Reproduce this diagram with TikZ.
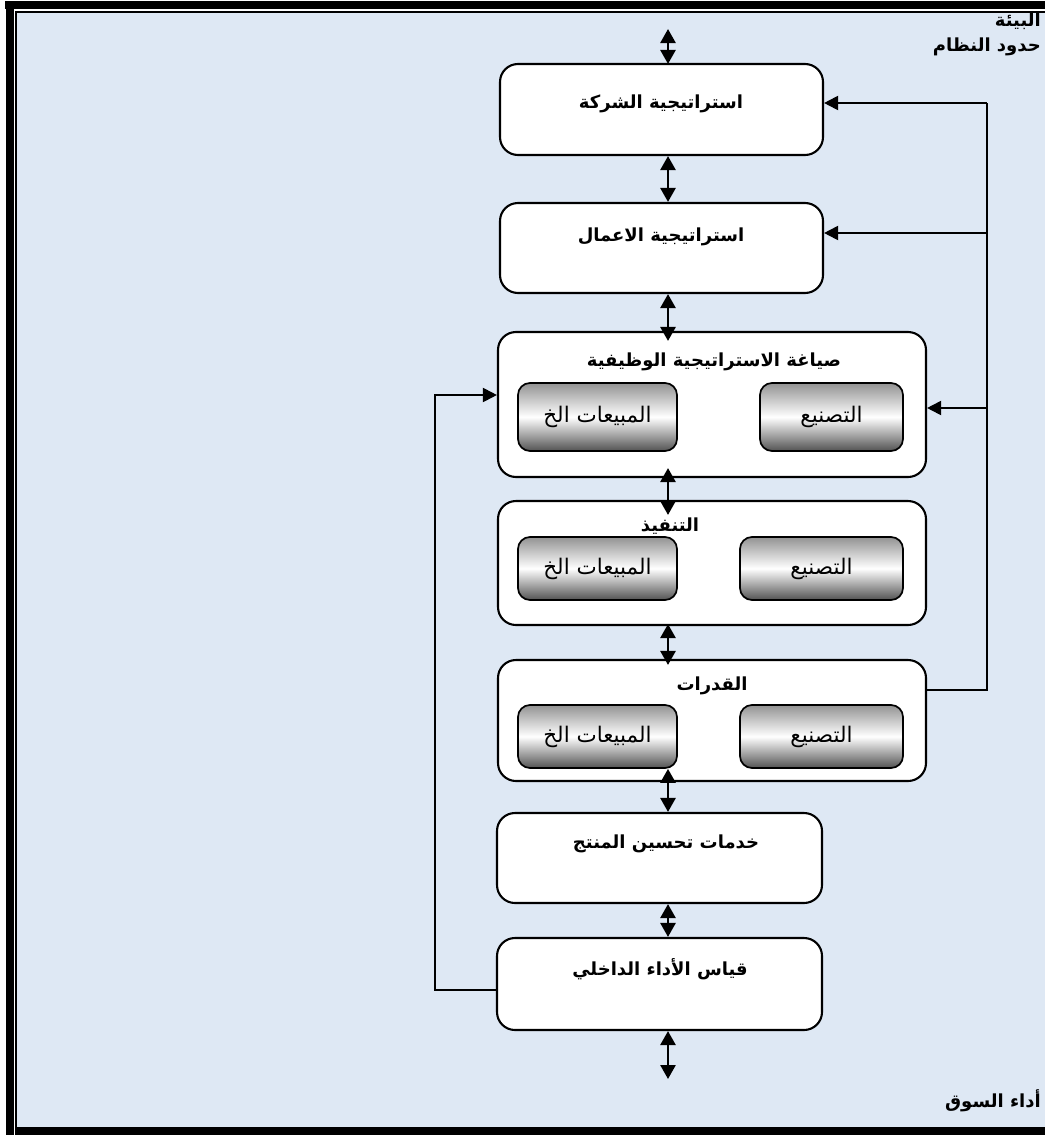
\documentclass[tikz,border=0pt]{standalone}
\usepackage{fontspec}
\setmainfont{DejaVu Sans}
\newfontfamily\arabicfont[Script=Arabic]{DejaVu Sans}
\TeXXeTstate=1
\usetikzlibrary{arrows.meta,calc}
\definecolor{paper}{HTML}{DEE8F4}
\newcommand\artext[1]{{\arabicfont\beginR #1\endR}}

\begin{document}
\begin{tikzpicture}[x=1pt,y=-1pt,
  box/.style={draw=black, line width=2.1pt, rounded corners=18pt, fill=white,
    inner sep=0pt, minimum width=#1},
  subbox/.style={draw=black, line width=1.7pt, rounded corners=12pt,
    top color=gray!85, bottom color=gray!65!black, middle color=white,
    inner sep=0pt, font=\fontsize{21.5}{24}\selectfont},
  title/.style={inner sep=0pt, font=\bfseries\fontsize{18}{22}\selectfont},
  dbl/.style={line width=2.6pt, {Triangle[length=14pt,width=15pt]}-{Triangle[length=14pt,width=15pt]}},
  fb/.style={line width=1.9pt},
  fbarrow/.style={line width=1.9pt, -{Triangle[length=14pt,width=14pt]}}
]
\useasboundingbox (0,0) rectangle (1045,1135);

% page background and thick-thin border
\fill[paper] (16.5,12.5) rectangle (1045,1127);
\fill[black] (5,1) rectangle (1045,8.5);
\fill[black] (6,1) rectangle (13.5,1135);
\fill[black] (15,11) rectangle (1045,12.5);
\fill[black] (15,11) rectangle (16.5,1135);
\fill[black] (15,1127) rectangle (1045,1135);

% corner labels
\node[title, anchor=east] (env) at (1041,21) {\artext{البيئة}};
\node[title, anchor=east] (bound) at (1041,47) {\artext{حدود النظام}};
\node[title, anchor=east] (market) at (1041,1101) {\artext{أداء السوق}};

% main boxes
\node[box=323pt, minimum height=91pt] (b1) at (661.5,109.5) {};
\node[box=323pt, minimum height=90pt] (b2) at (661.5,248) {};
\node[box=428pt, minimum height=145pt] (b3) at (712,404.5) {};
\node[box=428pt, minimum height=124pt] (b4) at (712,563) {};
\node[box=428pt, minimum height=121pt] (b5) at (712,720.5) {};
\node[box=325pt, minimum height=90pt] (b6) at (659.5,858) {};
\node[box=325pt, minimum height=92pt] (b7) at (659.5,984) {};

% box titles
\node[title] (t1) at (661,104) {\artext{استراتيجية الشركة}};
\node[title] (t2) at (661,237) {\artext{استراتيجية الاعمال}};
\node[title] (t3) at (714,362) {\artext{صياغة الاستراتيجية الوظيفية}};
\node[title] (t4) at (670,526) {\artext{التنفيذ}};
\node[title] (t5) at (712,686) {\artext{القدرات}};
\node[title] (t6) at (666,844) {\artext{خدمات تحسين المنتج}};
\node[title] (t7) at (660,969) {\artext{قياس الأداء الداخلي}};

% functional sub-boxes
\node[subbox, minimum width=159pt, minimum height=68pt] (s3a) at (597.5,417) {\artext{المبيعات الخ}};
\node[subbox, minimum width=143pt, minimum height=68pt] (s3b) at (831.5,417) {\artext{التصنيع}};
\node[subbox, minimum width=159pt, minimum height=63pt] (s4a) at (597.5,568.5) {\artext{المبيعات الخ}};
\node[subbox, minimum width=163pt, minimum height=63pt] (s4b) at (821.5,568.5) {\artext{التصنيع}};
\node[subbox, minimum width=159pt, minimum height=63pt] (s5a) at (597.5,736.5) {\artext{المبيعات الخ}};
\node[subbox, minimum width=163pt, minimum height=63pt] (s5b) at (821.5,736.5) {\artext{التصنيع}};

% vertical two-way links
\coordinate (axis) at (668,0);
\coordinate (envtop) at (668,29);
\draw[dbl] (envtop) -- ($(b1.north -| axis)+(0,1)$);
\draw[dbl] (b1.south -| axis) -- (b2.north -| axis);
\draw[dbl] (b2.south -| axis) -- ($(b3.north -| axis)+(0,10)$);
\draw[dbl] ($(b3.south -| axis)+(0,-10)$) -- ($(b4.north -| axis)+(0,15)$);
\draw[dbl] ($(b4.south -| axis)+(0,-2)$) -- ($(b5.north -| axis)+(0,6)$);
\draw[dbl] (s5a.south -| axis) -- (b6.north -| axis);
\draw[dbl] (b6.south -| axis) -- (b7.north -| axis);
\coordinate (mkt) at (668,1079);
\draw[dbl] (b7.south -| axis) -- (mkt);

% feedback from capabilities to the strategy levels
\coordinate (rt) at (987,103);
\coordinate (r2) at (987,233);
\coordinate (r3) at (987,408);
\coordinate (rb) at (987,690);
\draw[fb] (b5.east |- rb) -- (rb) -- (rt);
\draw[fbarrow] (rt) -- (b1.east |- rt);
\draw[fbarrow] (r2) -- (b2.east |- r2);
\draw[fbarrow] (r3) -- (b3.east |- r3);

% feedback from internal performance to functional strategy
\coordinate (lb) at (435,990);
\coordinate (lt) at (435,395);
\draw[fbarrow] (b7.west |- lb) -- (lb) -- (lt) -- (b3.west |- lt);
\end{tikzpicture}
\end{document}
